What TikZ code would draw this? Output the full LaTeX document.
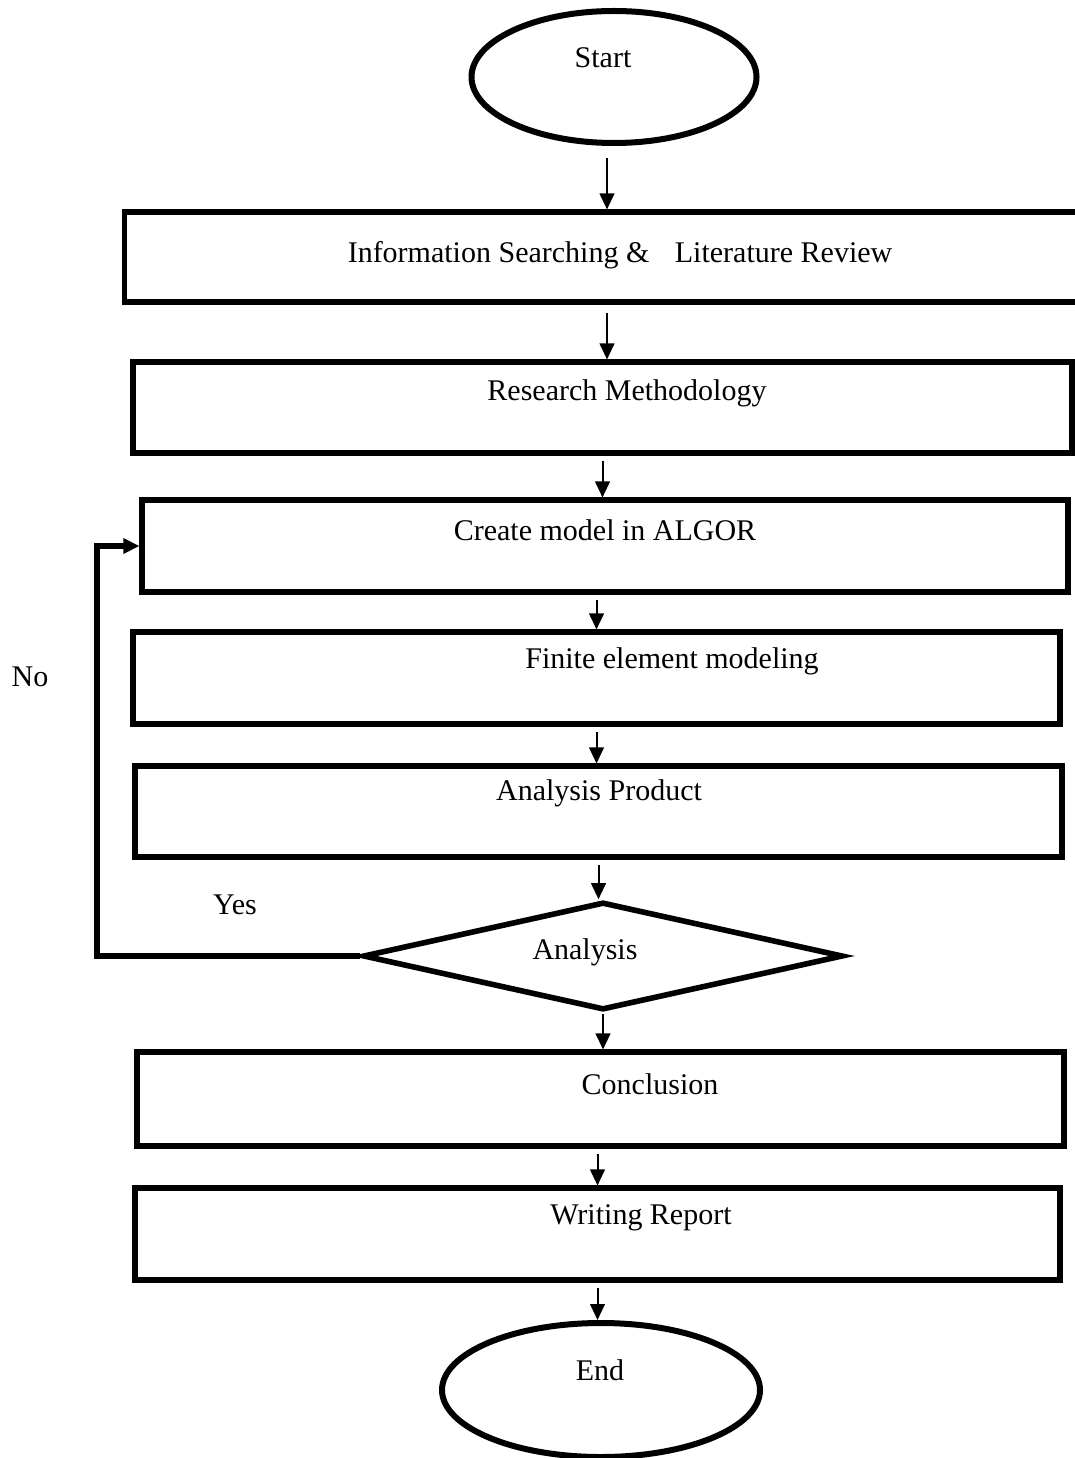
\documentclass[tikz,border=0pt]{standalone}
\usepackage{fontspec}
\setmainfont{Liberation Serif}
\usepackage{tikz}
\usetikzlibrary{arrows.meta,shapes.geometric}

\tikzset{
  box/.style={draw, rectangle, line width=3.8pt, inner sep=0pt},
  term/.style={draw, ellipse, line width=4.5pt, inner sep=0pt},
  decide/.style={draw, diamond, line width=4.2pt, inner sep=0pt},
  txt/.style={inner sep=0pt, font=\fontsize{22.5}{26}\selectfont},
  flow/.style={-{Triangle[length=12pt,width=11pt]}, line width=1.5pt, shorten <=4pt},
  back/.style={-{Triangle[length=12pt,width=11pt]}, line width=3.8pt}
}

\begin{document}
\begin{tikzpicture}[x=0.75pt, y=-0.75pt]
    \useasboundingbox (0,0) rectangle (1074,1458);

    % Terminals
    \node[term, minimum width=213.75pt, minimum height=99pt] (start) at (614,77) {};
    \node[term, minimum width=238.5pt, minimum height=100.5pt] (end) at (601,1390) {};

    % Process boxes
    \node[box, minimum width=723.75pt, minimum height=67.5pt] (b1) at (607,257) {};
    \node[box, minimum width=704.25pt, minimum height=68.25pt] (b2) at (602.5,407.5) {};
    \node[box, minimum width=694.5pt, minimum height=69pt] (b3) at (605,546) {};
    \node[box, minimum width=695.25pt, minimum height=69pt] (b4) at (596.5,678) {};
    \node[box, minimum width=695.25pt, minimum height=68.25pt] (b5) at (598.5,811.5) {};
    \node[box, minimum width=695.25pt, minimum height=70.5pt] (b6) at (600.5,1099) {};
    \node[box, minimum width=693.75pt, minimum height=69pt] (b7) at (597.5,1234) {};

    % Decision
    \node[decide, minimum width=360pt, minimum height=81pt] (dia) at (603,956) {};

    % Texts
    \node[txt] (tstart) at (603,58) {Start};
    \node[txt] (t1) at (620,255) {Information Searching \& \hspace{0.6em}Literature Review};
    \node[txt] (t2) at (627,393) {Research Methodology};
    \node[txt] (t3) at (605,530) {Create model in ALGOR};
    \node[txt] (t4) at (672,661) {Finite element modeling};
    \node[txt] (t5) at (599,793) {Analysis Product};
    \node[txt] (tdia) at (585,952) {Analysis};
    \node[txt] (t6) at (650,1084) {Conclusion};
    \node[txt] (t7) at (641,1218) {Writing Report};
    \node[txt] (tend) at (600,1370) {End};
    \node[txt] (no) at (30,677) {No};
    \node[txt] (yes) at (235,905) {Yes};

    % Flow
    \draw[flow, shorten <=9pt] (start.south -| b1.north) -- (b1.north);
    \draw[flow, shorten <=6pt] (b1.south) -- (b1.south |- b2.north);
    \draw[flow] (b2.south) -- (b2.south |- b3.north);
    \draw[flow] (b3.south -| b4.north) -- (b4.north);
    \draw[flow] (b4.south) -- (b4.south |- b5.north);
    \draw[flow] (b5.south) -- (b5.south |- dia.north);
    \draw[flow, shorten <=1pt] (dia.south) -- (dia.south |- b6.north);
    \draw[flow] (b6.south -| b7.north) -- (b7.north);
    \draw[flow] (b7.south) -- (b7.south |- end.north);

    % Loop back
    \coordinate (turn) at (97,956);
    \draw[back] (dia.west) -- (turn) |- (b3.west);
\end{tikzpicture}
\end{document}
